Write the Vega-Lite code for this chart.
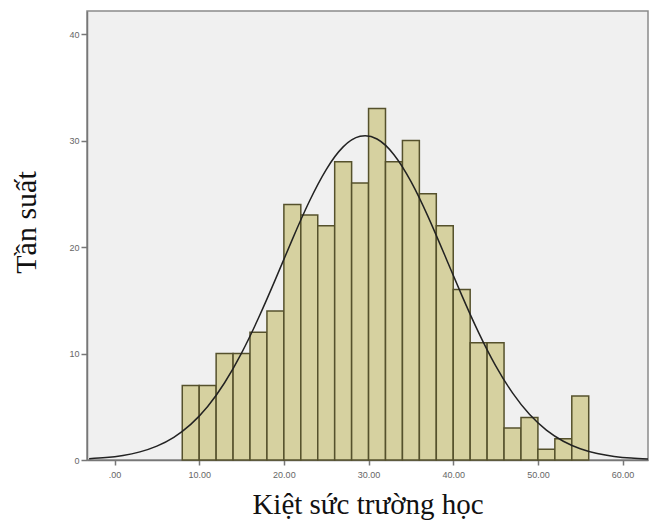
{
  "$schema": "https://vega.github.io/schema/vega-lite/v6.json",
  "autosize": {"type": "none"},
  "width": 561,
  "height": 449,
  "padding": {"left": 87, "top": 11, "right": 3, "bottom": 61},
  "background": "#ffffff",
  "config": {
    "view": {"fill": "#f0f0f0", "stroke": "#8a8a8a", "strokeWidth": 1.5},
    "axis": {"grid": false, "labelFont": "Liberation Sans", "labelFontSize": 9, "labelColor": "#666666", "domainColor": "#777777", "tickColor": "#777777", "domainWidth": 1.5, "tickWidth": 1.5, "titleFont": "Liberation Serif", "titleFontWeight": "normal", "titleColor": "#111111"}
  },
  "datasets": {
    "bars": [
      {"start": 8, "end": 10, "count": 7},
      {"start": 10, "end": 12, "count": 7},
      {"start": 12, "end": 14, "count": 10},
      {"start": 14, "end": 16, "count": 10},
      {"start": 16, "end": 18, "count": 12},
      {"start": 18, "end": 20, "count": 14},
      {"start": 20, "end": 22, "count": 24},
      {"start": 22, "end": 24, "count": 23},
      {"start": 24, "end": 26, "count": 22},
      {"start": 26, "end": 28, "count": 28},
      {"start": 28, "end": 30, "count": 26},
      {"start": 30, "end": 32, "count": 33},
      {"start": 32, "end": 34, "count": 28},
      {"start": 34, "end": 36, "count": 30},
      {"start": 36, "end": 38, "count": 25},
      {"start": 38, "end": 40, "count": 22},
      {"start": 40, "end": 42, "count": 16},
      {"start": 42, "end": 44, "count": 11},
      {"start": 44, "end": 46, "count": 11},
      {"start": 46, "end": 48, "count": 3},
      {"start": 48, "end": 50, "count": 4},
      {"start": 50, "end": 52, "count": 1},
      {"start": 52, "end": 54, "count": 2},
      {"start": 54, "end": 56, "count": 6}
    ],
    "curve": [
      {"x": -3, "y": 0.120}, {"x": -1, "y": 0.233}, {"x": 1, "y": 0.431}, {"x": 3, "y": 0.765},
      {"x": 5, "y": 1.304}, {"x": 7, "y": 2.132}, {"x": 9, "y": 3.344}, {"x": 11, "y": 5.027},
      {"x": 13, "y": 7.253}, {"x": 15, "y": 10.04}, {"x": 17, "y": 13.33}, {"x": 19, "y": 16.96},
      {"x": 21, "y": 20.72}, {"x": 23, "y": 24.27}, {"x": 25, "y": 27.27}, {"x": 27, "y": 29.40},
      {"x": 29, "y": 30.39}, {"x": 31, "y": 30.14}, {"x": 33, "y": 28.67}, {"x": 35, "y": 26.16},
      {"x": 37, "y": 22.90}, {"x": 39, "y": 19.22}, {"x": 41, "y": 15.48}, {"x": 43, "y": 11.96},
      {"x": 45, "y": 8.86}, {"x": 47, "y": 6.30}, {"x": 49, "y": 4.29}, {"x": 51, "y": 2.807},
      {"x": 53, "y": 1.760}, {"x": 55, "y": 1.059}, {"x": 57, "y": 0.611}, {"x": 59, "y": 0.338},
      {"x": 61, "y": 0.180}, {"x": 63, "y": 0.0915}
    ]
  },
  "layer": [
    {
      "data": {"name": "bars"},
      "mark": {"type": "rect", "fill": "#d6d1a0", "stroke": "#55512c", "strokeWidth": 1.5},
      "encoding": {
        "x": {"field": "start", "type": "quantitative", "scale": {"domain": [-3.25, 63], "nice": false, "zero": false},
          "axis": {"values": [0, 10, 20, 30, 40, 50, 60], "labelExpr": "datum.value == 0 ? '.00' : format(datum.value, '.2f')", "tickSize": 5, "labelPadding": 5,
            "title": "Kiệt sức trường học", "titleFontSize": 29, "titleBaseline": "alphabetic", "titleY": 53}},
        "x2": {"field": "end"},
        "y": {"field": "count", "type": "quantitative", "scale": {"domain": [0, 42.16], "nice": false},
          "axis": {"values": [0, 10, 20, 30, 40], "tickSize": 6, "labelPadding": 2,
            "title": "Tần suất", "titleFontSize": 30, "titleBaseline": "alphabetic", "titleX": -52, "titleY": 211}},
        "y2": {"datum": 0}
      }
    },
    {
      "data": {"name": "curve"},
      "mark": {"type": "line", "color": "#222222", "strokeWidth": 1.5, "interpolate": "natural", "clip": true},
      "encoding": {
        "x": {"field": "x", "type": "quantitative"},
        "y": {"field": "y", "type": "quantitative"}
      }
    }
  ]
}
